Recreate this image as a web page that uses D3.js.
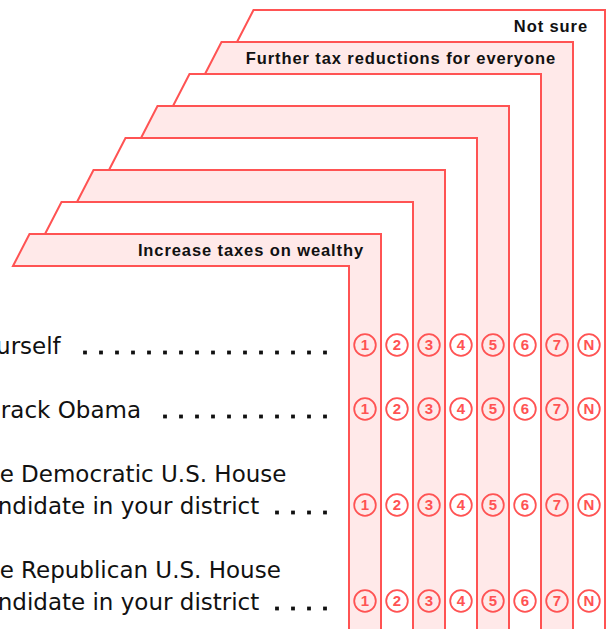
<!DOCTYPE html>
<html>
<head>
<meta charset="utf-8">
<script src="https://cdn.jsdelivr.net/npm/d3@7"></script>
<style>
  body { margin: 0; background: #fff; }
  svg { display: block; }
</style>
</head>
<body>
<script>
// answer columns, left to right
var choices = ["1", "2", "3", "4", "5", "6", "7", "N"];
// header text on each column tab ("" = blank tab)
var headers = ["Increase taxes on wealthy", "", "", "", "", "", "Further tax reductions for everyone", "Not sure"];
// rows of the question, one entry per text line
var rowLabels = [
  ["Yourself"],
  ["Barack Obama"],
  ["The Democratic U.S. House", "candidate in your district"],
  ["The Republican U.S. House", "candidate in your district"]
];

var W = 611, H = 629;
var red = "#ff5353", pink = "#ffe9e9";

var svg = d3.select("body").append("svg")
  .attr("width", W)
  .attr("height", H);

// x position of each column
var x = d3.scaleBand().domain(choices).range([349, 605]);
var cw = x.bandwidth();
// top of each column tab (last column's tab sits highest)
var yTab = d3.scaleLinear().domain([choices.length - 1, 0]).range([10, 234]);
var tabH = 32, slant = 16.5;

// rows: a line-unit scale, each row spaced by its line count
var lineUnit = d3.scaleLinear().domain([0, 1]).range([345, 377]);
var rowPos = [];
var acc = 0;
rowLabels.forEach(function(lines, i){
  if (i > 0) acc += 1 + lines.length;
  rowPos.push(acc);
});

// column shapes, back to front
var cols = svg.append("g");
choices.slice().reverse().forEach(function(c){
  var i = choices.indexOf(c);
  var l = x(c), r = l + cw;
  var t = yTab(i), b = t + tabH;
  var bl = x(choices[0]) - 336 + i * cw;
  var pts = [[bl, b], [bl + slant, t], [r, t], [r, H + 5], [l, H + 5], [l, b]];
  cols.append("path")
    .attr("d", d3.line()(pts) + "Z")
    .attr("fill", i % 2 == 0 ? pink : "#fff")
    .attr("stroke", red)
    .attr("stroke-width", 2);
  if (headers[i]) {
    cols.append("text")
      .attr("x", r - 17)
      .attr("y", t + 22)
      .attr("text-anchor", "end")
      .style("font-family", "'Liberation Sans', Arial, sans-serif")
      .style("font-weight", "bold")
      .style("font-size", "16.5px")
      .style("letter-spacing", "0.9px")
      .attr("fill", "#111")
      .text(headers[i]);
  }
});

// row labels with dot leaders
var rows = svg.append("g");
var dotEnd = 325;
rowLabels.forEach(function(lines, k){
  var cy = lineUnit(rowPos[k]);
  var lastBase = cy + 9;
  var lastText;
  lines.forEach(function(s, j){
    lastText = rows.append("text")
      .attr("x", -29)
      .attr("y", lastBase - (lines.length - 1 - j) * 32)
      .style("font-family", "'DejaVu Sans', sans-serif")
      .style("font-size", "23px")
      .attr("fill", "#111")
      .text(s);
  });
  var bb = lastText.node().getBBox();
  var textEnd = bb.x + bb.width;
  for (var dx = dotEnd; dx - 2 > textEnd + 15; dx -= 16) {
    rows.append("rect")
      .attr("x", dx - 1.9)
      .attr("y", lastBase - 3.4)
      .attr("width", 3.8)
      .attr("height", 3.8)
      .attr("fill", "#111");
  }

  // answer bubbles
  var g = rows.append("g");
  g.selectAll("circle")
    .data(choices)
    .enter()
    .append("circle")
      .attr("cx", function(d){ return x(d) + cw / 2; })
      .attr("cy", cy)
      .attr("r", 10.8)
      .attr("fill", "none")
      .attr("stroke", red)
      .attr("stroke-width", 1.8);
  g.selectAll("text")
    .data(choices)
    .enter()
    .append("text")
      .attr("x", function(d){ return x(d) + cw / 2; })
      .attr("y", cy + 5.3)
      .attr("text-anchor", "middle")
      .style("font-family", "'Liberation Sans', Arial, sans-serif")
      .style("font-weight", "bold")
      .style("font-size", "15px")
      .attr("fill", red)
      .text(function(d){ return d; });
});
</script>
</body>
</html>
